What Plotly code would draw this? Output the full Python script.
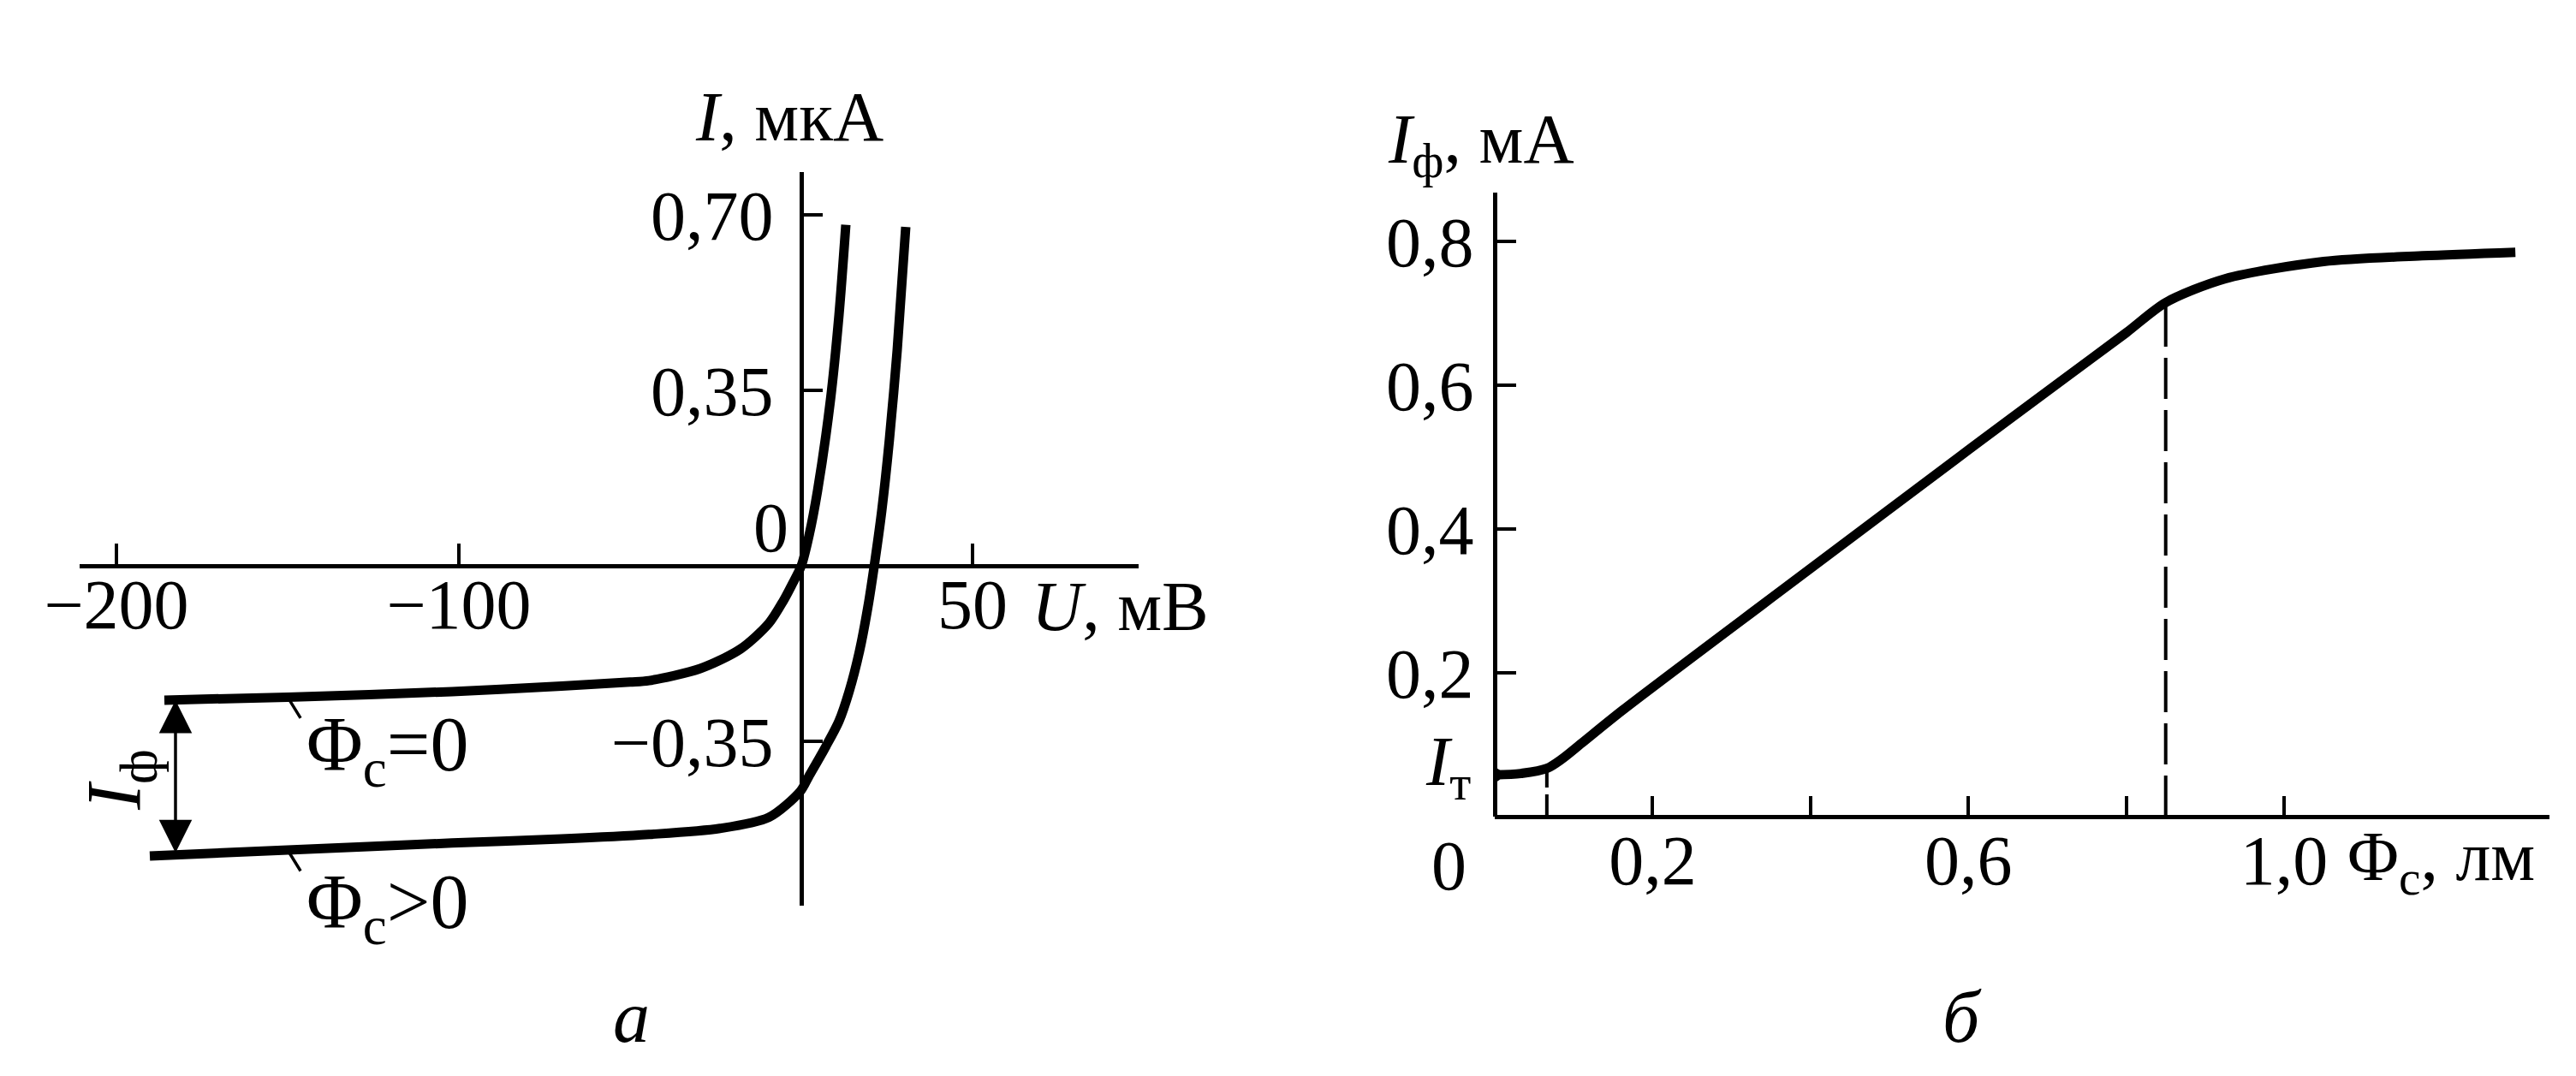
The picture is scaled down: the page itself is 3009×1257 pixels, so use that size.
import plotly.graph_objects as go

W, H = 3009, 1257
FONT = "Liberation Serif"
FS = 82

# ---------------- data: panel "а" (U, mV ; I, µA) ----------------
U_dark = [-186, -150, -102, -70, -50, -44.5, -29.5, -17.75, -9.5, -5.25, -2.75, 0,
          2.25, 4.75, 8.5, 11, 13]
I_dark = [-0.268, -0.262, -0.251, -0.240, -0.232, -0.229, -0.205, -0.166, -0.115, -0.07, -0.038, 0,
          0.06, 0.15, 0.33, 0.50, 0.68]

U_light = [-190.25, -150, -102, -70, -44.5, -23.75, -9.5, -0.3, 2.2, 7.2, 11, 14,
           17, 19.5, 21.3, 23.5, 25.7, 28, 30.5]
I_light = [-0.579, -0.567, -0.553, -0.545, -0.536, -0.524, -0.502, -0.45, -0.42, -0.36, -0.31, -0.25,
           -0.17, -0.08, 0, 0.11, 0.25, 0.43, 0.676]

U_ticks = [-200, -100, 50]
U_ticktext = ["\u2212200", "\u2212100", "50"]
I_ticks = [0.70, 0.35, -0.35]
I_ticktext = ["0,70", "0,35", "\u22120,35"]

# ---------------- data: panel "б" (Φ, lm ; Iф, mA) ----------------
PHI = [0, 0.033, 0.066, 0.085, 0.11, 0.162, 0.4, 0.6, 0.72, 0.8, 0.85, 0.925, 1.05, 1.175, 1.293]
IPH = [0.058, 0.060, 0.067, 0.080, 0.102, 0.148, 0.345, 0.51, 0.608, 0.673, 0.715, 0.748, 0.772, 0.780, 0.785]
KNEE_LO_IDX = 2   # start of linear part
KNEE_HI_IDX = 10  # end of linear part

PHI_ticks = [0.2, 0.4, 0.6, 0.8, 1.0]
PHI_ticktext = ["0,2", "", "0,6", "", "1,0"]
IPH_ticks = [0.2, 0.4, 0.6, 0.8]
IPH_ticktext = ["0,2", "0,4", "0,6", "0,8"]


def px(x):
    return x / W


def py(y):
    return 1 - y / H


fig = go.Figure()

CURVE = dict(color="black", width=11, shape="spline", smoothing=0.8)

# panel a curves
fig.add_trace(go.Scatter(x=U_dark, y=I_dark, mode="lines", xaxis="x", yaxis="y",
                         line=CURVE, showlegend=False, hoverinfo="skip"))
fig.add_trace(go.Scatter(x=U_light, y=I_light, mode="lines", xaxis="x", yaxis="y",
                         line=CURVE, showlegend=False, hoverinfo="skip"))

# panel b curve
fig.add_trace(go.Scatter(x=PHI, y=IPH, mode="lines", xaxis="x2", yaxis="y2",
                         line=CURVE, showlegend=False, hoverinfo="skip"))
fig.add_trace(go.Scatter(x=[PHI[0]], y=[IPH[0]], mode="markers", xaxis="x2", yaxis="y2",
                         marker=dict(color="black", size=16),
                         showlegend=False, hoverinfo="skip"))
# dashed drop lines
fig.add_trace(go.Scatter(x=[PHI[KNEE_LO_IDX]] * 2, y=[0, IPH[KNEE_LO_IDX]], mode="lines",
                         xaxis="x2", yaxis="y2",
                         line=dict(color="black", width=4, dash="26px,8px"),
                         showlegend=False, hoverinfo="skip"))
fig.add_trace(go.Scatter(x=[PHI[KNEE_HI_IDX]] * 2, y=[0, IPH[KNEE_HI_IDX]], mode="lines",
                         xaxis="x2", yaxis="y2",
                         line=dict(color="black", width=4, dash="48px,13px"),
                         showlegend=False, hoverinfo="skip"))

axis_common = dict(showgrid=False, zeroline=False, showline=True, linecolor="black",
                   linewidth=5, ticks="inside", tickcolor="black", tickwidth=4,
                   tickfont=dict(family=FONT, size=FS, color="black"),
                   anchor="free", automargin=False, fixedrange=True)

fig.update_layout(
    width=W, height=H,
    margin=dict(l=0, r=0, t=0, b=0),
    paper_bgcolor="white", plot_bgcolor="white",
    xaxis=dict(**axis_common, domain=[px(85), px(1322)], range=[-210.75, 98.5],
               position=py(653), tickvals=U_ticks, ticktext=U_ticktext, ticklen=24,
               ticklabelstandoff=-28),
    yaxis=dict(**axis_common, domain=[py(1050), py(193)], range=[-0.678, 0.7854],
               position=px(928), tickvals=I_ticks, ticktext=I_ticktext, ticklen=22,
               ticklabelstandoff=14),
    xaxis2=dict(**axis_common, domain=[px(1738), px(2970)], range=[0, 1.3362],
                position=py(946), tickvals=PHI_ticks, ticktext=PHI_ticktext, ticklen=22,
                ticklabelstandoff=-22),
    yaxis2=dict(**axis_common, domain=[py(946), py(217)], range=[0, 0.8679],
                position=px(1738), tickvals=IPH_ticks, ticktext=IPH_ticktext, ticklen=22,
                ticklabelstandoff=6),
)


def label(text, x, y, xanchor="center", yanchor="middle", angle=0, size=FS):
    fig.add_annotation(text=text, x=px(x), y=py(y), xref="paper", yref="paper",
                       xanchor=xanchor, yanchor=yanchor, showarrow=False,
                       textangle=angle, font=dict(family=FONT, size=size, color="black"))


# panel a labels
label("<i>I</i>, мкА", 914, 128)
label("<i>U</i>, мВ", 1300, 700)
label("0", 892, 608)
label("Φ<sub>с</sub>=0", 348, 868, xanchor="left", size=90)
label("Φ<sub>с</sub>&gt;0", 348, 1052, xanchor="left", size=90)
label("<i>I</i><sub>ф</sub>", 132, 903, angle=-90, size=90)
label("<i>а</i>", 729, 1180, size=86)

# panel b labels
label("<i>I</i><sub>ф</sub>, мА", 1722, 160)
label("<i>I</i><sub>т</sub>", 1712, 887, xanchor="right")
label("0", 1685, 1003)
label("Φ<sub>с</sub>, лм", 2843, 998)
label("<i>б</i>", 2284, 1180, size=86)

# I_ф double arrow between the two flat branches
ARROW_U = -182.75
fig.add_annotation(x=ARROW_U, y=I_dark[0], ax=ARROW_U, ay=I_light[0] + 0.004,
                   xref="x", yref="y", axref="x", ayref="y", text="",
                   showarrow=True, arrowside="end+start", arrowhead=2, arrowsize=2.2,
                   arrowwidth=3.5, arrowcolor="black", standoff=0, startstandoff=0)

# small leader strokes from the branches to their labels
for (u, i) in [(U_dark[1], I_dark[1]), (U_light[1], I_light[1])]:
    fig.add_annotation(x=u, y=i, xref="x", yref="y", text="", showarrow=True,
                       ax=16, ay=26, arrowhead=0, arrowwidth=3.5, arrowcolor="black",
                       standoff=0)

fig.write_html("out.html")
